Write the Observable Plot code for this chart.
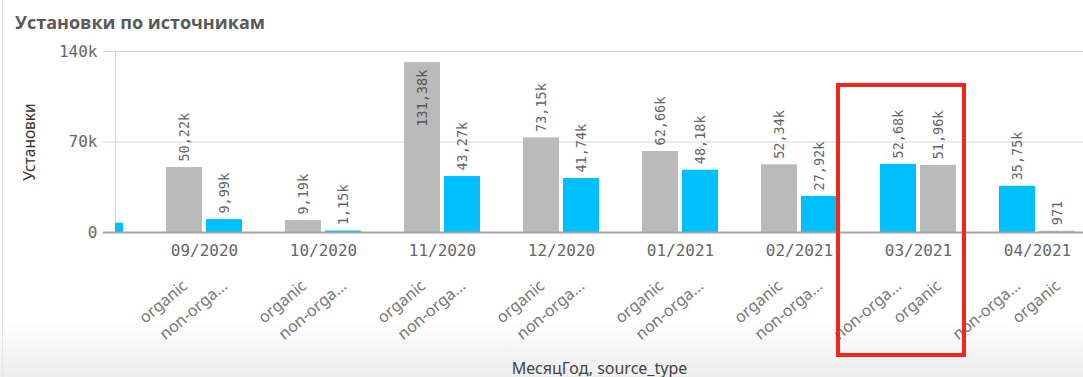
<!DOCTYPE html>
<html><head><meta charset="utf-8">
<script src="https://cdn.jsdelivr.net/npm/d3@7"></script>
<script src="https://cdn.jsdelivr.net/npm/@observablehq/plot@0.6"></script>
<style>
html,body{margin:0;padding:0;}
body{width:1083px;height:377px;overflow:hidden;position:relative;font-family:"Open Sans",sans-serif;
  background:linear-gradient(to bottom,#ffffff 0px,#ffffff 318px,#ededed 377px);}
#edge{position:absolute;left:2px;top:0;bottom:0;width:1px;background:#e6e6e6;}
#title{height:40px;box-sizing:border-box;padding:10px 0 0 15px;font-size:18px;font-weight:700;color:#595959;line-height:24px;}
#chart svg{display:block;}
</style></head><body>
<div id="edge"></div>
<div id="title">Установки по источникам</div>
<div id="chart"></div>
<script>
// ---- data ----
const months = ["08/2020","09/2020","10/2020","11/2020","12/2020","01/2021","02/2021","03/2021","04/2021"];
const organic    = [null, 50220, 9190, 131380, 73150, 62660, 52340, 51960, 971];
const nonOrganic = [7200, 9990, 1150, 43270, 41740, 48180, 27920, 52680, 35750];
const sources = ["organic", "non-organic"];
const sourceColors = ["#bababa", "#00bfff"];
const yTicks = [0, 70000, 140000];
const yTitle = "Установки";
const xTitle = "МесяцГод, source_type";
const highlightMonth = "03/2021";
const visibleMonths = months.slice(1);

// ---- rows (ranked within each month, larger first) ----
const rows = [];
months.forEach((m, i) => {
  const g = [
    {month: m, source: "organic", value: organic[i]},
    {month: m, source: "non-organic", value: nonOrganic[i]}
  ];
  g.sort((a, b) => (b.value ?? Infinity) - (a.value ?? Infinity));
  g.forEach((d, r) => { d.rank = r; if (d.value != null) rows.push(d); });
});

const mono = "DejaVu Sans Mono";
const fmt = v => v >= 1000 ? (v / 1000).toFixed(2).replace(".", ",") + "k" : String(v);
const tickFmt = v => v === 0 ? "0" : (v / 1000) + "k";
const shortName = s => s.length > 8 ? s.slice(0, 8) + "..." : s;
const fitsAbove = d => d.value < 105000;
const off = [-20, 20];

const marks = [
  Plot.ruleY(yTicks.filter(t => t > 0), {stroke: "#d6d6d6", insetLeft: -12}),
  Plot.frame({anchor: "left", stroke: "#d6d6d6"}),
  Plot.axisY({ticks: yTicks, tickSize: 0, tickPadding: 18, tickFormat: tickFmt,
    fontSize: 16, fontFamily: mono, fill: "#666", label: null}),
  Plot.text([yTitle], {frameAnchor: "left", dx: -85, rotate: -90, textAnchor: "middle",
    fontSize: 15.5, fill: "#333"})
];
[0, 1].forEach(r => {
  const sub = rows.filter(d => d.rank === r);
  marks.push(
    Plot.barY(sub, {x: "month", y: "value", fill: "source",
      insetLeft: r === 0 ? 0 : 40, insetRight: r === 0 ? 40 : 0, clip: true}),
    Plot.text(sub.filter(fitsAbove), {x: "month", y: "value", text: d => fmt(d.value),
      dx: off[r], dy: -6, rotate: -90, textAnchor: "start", fontFamily: mono, fontSize: 13.5,
      fill: "#666", clip: true}),
    Plot.text(sub.filter(d => !fitsAbove(d)), {x: "month", y: "value", text: d => fmt(d.value),
      dx: off[r], dy: 7, rotate: -90, textAnchor: "end", fontFamily: mono, fontSize: 13.5,
      fill: "#555", clip: true}),
    Plot.text(sub.filter(d => visibleMonths.includes(d.month)), {x: "month", text: d => shortName(d.source),
      frameAnchor: "bottom", dx: off[r] + 4, dy: 55, rotate: -40, textAnchor: "end",
      fontSize: 16, fill: "#777"})
  );
});
marks.push(
  Plot.ruleY([0], {stroke: "#a3a3a3", strokeWidth: 2, insetLeft: -12}),
  Plot.text(visibleMonths, {x: d => d, frameAnchor: "bottom", dy: 23, fontFamily: mono,
    fontSize: 16, fill: "#666"}),
  Plot.text([xTitle], {frameAnchor: "bottom", dy: 141, fontSize: 16, fill: "#444"}),
  Plot.cell([highlightMonth], {x: d => d, fill: "none", stroke: "#f2261b", strokeWidth: 4,
    insetLeft: -42, insetRight: -8, insetTop: 34, insetBottom: -123})
);

const chart = Plot.plot({
  width: 1083, height: 337,
  marginTop: 11, marginBottom: 145, marginLeft: 115, marginRight: 0,
  style: {background: "transparent", overflow: "visible"},
  x: {type: "band", domain: months, range: [1, 1121], padding: 0.364, axis: null},
  y: {domain: [0, 140000], axis: null},
  color: {domain: sources, range: sourceColors},
  marks
});
document.getElementById("chart").appendChild(chart);
</script>
</body></html>
